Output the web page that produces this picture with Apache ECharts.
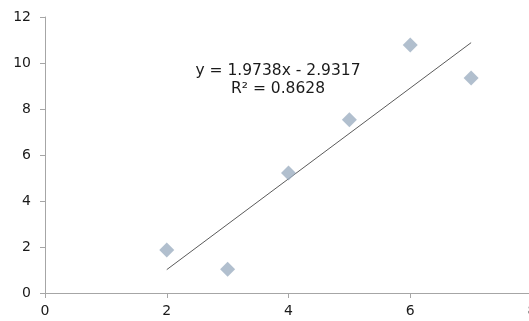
<!DOCTYPE html>
<html><head><meta charset="utf-8">
<script src="https://cdn.jsdelivr.net/npm/echarts@6/dist/echarts.min.js"></script>
<style>html,body{margin:0;padding:0;background:#fff}#c{width:529px;height:321px}</style>
</head><body><div id="c"></div>
<script>
const xValues = [2, 3, 4, 5, 6, 7];
const yValues = [1.87, 1.03, 5.22, 7.53, 10.78, 9.35];
const slope = 1.9738;
const intercept = -2.9317;
const trendX = [2, 7];
const equationLines = ['y = 1.9738x - 2.9317', 'R² = 0.8628'];

const chart = echarts.init(document.getElementById('c'), null, {renderer: 'canvas'});
const axisColor = '#a6a6a6';
const font = 'DejaVu Sans, Verdana, sans-serif';
chart.setOption({
  animation: false,
  grid: {left: 45, right: -3, top: 17, bottom: 28, containLabel: false, outerBoundsMode: 'none'},
  xAxis: {
    type: 'value', min: 0, max: 8, interval: 2,
    axisLine: {show: true, lineStyle: {color: axisColor, width: 1}},
    axisTick: {show: true, length: 5, lineStyle: {color: axisColor}},
    splitLine: {show: false},
    axisLabel: {color: '#1a1a1a', fontFamily: font, fontSize: 14, margin: 11}
  },
  yAxis: {
    type: 'value', min: 0, max: 12, interval: 2,
    axisLine: {show: true, lineStyle: {color: axisColor, width: 1}},
    axisTick: {show: true, length: 5, lineStyle: {color: axisColor}},
    splitLine: {show: false},
    axisLabel: {color: '#1a1a1a', fontFamily: font, fontSize: 14, margin: 14}
  },
  series: [
    {
      type: 'line',
      data: trendX.map(x => [x, slope * x + intercept]),
      symbol: 'none',
      lineStyle: {color: '#5a5a5a', width: 1},
      z: 1
    },
    {
      type: 'scatter',
      data: xValues.map((x, i) => [x, yValues[i]]),
      symbol: 'diamond',
      symbolSize: [15, 15],
      itemStyle: {color: '#9dafc2'},
      z: 2
    }
  ],
  graphic: [
    {type: 'text', x: 278, y: 80, style: {
      text: equationLines.join('\n'), fill: '#1a1a1a', font: '15.5px ' + font,
      align: 'center', verticalAlign: 'middle', lineHeight: 18
    }}
  ]
});
</script></body></html>
